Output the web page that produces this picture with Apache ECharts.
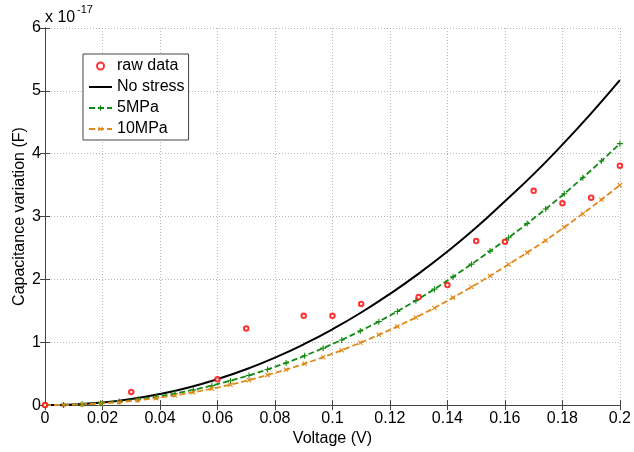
<!DOCTYPE html>
<html><head><meta charset="utf-8">
<script src="https://cdn.jsdelivr.net/npm/echarts@6/dist/echarts.min.js"></script>
<style>html,body{margin:0;padding:0;background:#fff}#c{width:634px;height:452px}</style>
</head><body><div id="c"></div>
<script>
// Raw measured points (units of 1e-17 F)
const rawX = [0, 0.01, 0.03, 0.06, 0.07, 0.09, 0.10, 0.11, 0.13, 0.14, 0.15, 0.16, 0.17, 0.18, 0.19, 0.20];
const rawY = [0, -0.02, 0.21, 0.41, 1.22, 1.42, 1.42, 1.61, 1.72, 1.91, 2.61, 2.60, 3.41, 3.21, 3.30, 3.81];
// No stress curve
const curveX = [0, 0.01, 0.02, 0.03, 0.04, 0.05, 0.06, 0.07, 0.08, 0.09, 0.10, 0.11, 0.12, 0.13, 0.14, 0.15, 0.16, 0.17, 0.18, 0.19, 0.20];
const noStress = [0, 0.010, 0.041, 0.096, 0.176, 0.281, 0.413, 0.570, 0.755, 0.967, 1.206, 1.473, 1.769, 2.092, 2.444, 2.825, 3.245, 3.675, 4.144, 4.642, 5.17];
// Marker positions for stressed curves
const markX = [0, 0.00645, 0.0129, 0.01935, 0.0258, 0.03226, 0.03871, 0.04516, 0.05161, 0.05806, 0.06452, 0.07097, 0.07742, 0.08387, 0.09032, 0.09677, 0.10323, 0.10968, 0.11613, 0.12258, 0.12903, 0.13548, 0.14194, 0.14839, 0.15484, 0.16129, 0.16774, 0.17419, 0.18065, 0.1871, 0.19355, 0.2];
const mpa5 = [0, 0.003, 0.013, 0.031, 0.056, 0.090, 0.132, 0.183, 0.242, 0.310, 0.387, 0.472, 0.567, 0.671, 0.784, 0.906, 1.037, 1.178, 1.328, 1.490, 1.662, 1.845, 2.040, 2.243, 2.450, 2.664, 2.888, 3.120, 3.362, 3.618, 3.883, 4.16];
const mpa10 = [0, 0.0026, 0.011, 0.026, 0.047, 0.076, 0.111, 0.154, 0.204, 0.261, 0.325, 0.397, 0.477, 0.564, 0.659, 0.762, 0.873, 0.991, 1.118, 1.252, 1.394, 1.545, 1.710, 1.880, 2.055, 2.238, 2.426, 2.620, 2.830, 3.046, 3.268, 3.50];
const xTicks = ['0','0.02','0.04','0.06','0.08','0.1','0.12','0.14','0.16','0.18','0.2'];
const yTicks = ['0','1','2','3','4','5','6'];

const zip = (a, b) => a.map((v, i) => [v, b[i]]);
const FONT = 'Liberation Sans, Arial, sans-serif';
const plus = 'path://M-1,-0.18H-0.18V-1H0.18V-0.18H1V0.18H0.18V1H-0.18V0.18H-1Z';

const chart = echarts.init(document.getElementById('c'), null, {renderer: 'canvas'});
const gridLine = {show: true, lineStyle: {type: [1, 2], color: '#b8b8b8', width: 1}};
const axLine = {show: true, lineStyle: {color: '#444', width: 1}};
chart.setOption({
  animation: false,
  backgroundColor: '#fff',
  grid: {left: 45, right: 10, top: 28, bottom: 40},
  textStyle: {fontFamily: FONT},
  xAxis: [{
    type: 'value', min: 0, max: 0.2, interval: 0.02, position: 'bottom',
    axisLine: axLine, axisTick: {show: true, inside: true, length: 5, lineStyle: {color: '#444'}},
    axisLabel: {color: '#000', fontSize: 16, fontFamily: FONT, margin: 5,
      formatter: (v) => xTicks[Math.round(v / 0.02)]},
    splitLine: gridLine,
    name: 'Voltage (V)', nameLocation: 'middle', nameGap: 23,
    nameTextStyle: {color: '#000', fontSize: 16, fontFamily: FONT, verticalAlign: 'top'}
  }, {
    type: 'value', min: 0, max: 0.2, interval: 0.02, position: 'top',
    axisLine: axLine, axisTick: {show: true, inside: true, length: 5, lineStyle: {color: '#444'}},
    axisLabel: {show: false}, splitLine: {show: false}
  }],
  yAxis: [{
    type: 'value', min: 0, max: 6, interval: 1, position: 'left',
    axisLine: axLine, axisTick: {show: true, inside: true, length: 5, lineStyle: {color: '#444'}},
    axisLabel: {color: '#000', fontSize: 16, fontFamily: FONT, margin: 4,
      formatter: (v) => yTicks[Math.round(v)]},
    splitLine: gridLine,
    name: 'Capacitance variation (F)', nameLocation: 'middle', nameGap: 17, nameRotate: 90,
    nameMoveOverlap: false,
    nameTextStyle: {color: '#000', fontSize: 16, fontFamily: FONT}
  }, {
    type: 'value', min: 0, max: 6, interval: 1, position: 'right',
    axisLine: axLine, axisTick: {show: true, inside: true, length: 5, lineStyle: {color: '#444'}},
    axisLabel: {show: false}, splitLine: {show: false}
  }],
  legend: {
    orient: 'vertical', left: 83, top: 54,
    backgroundColor: '#fff', borderColor: '#444', borderWidth: 1,
    padding: [4, 4, 3, 5], itemGap: 5, itemWidth: 23, itemHeight: 7,
    textStyle: {color: '#000', fontSize: 16, fontFamily: FONT, lineHeight: 16},
    data: [
      'raw data',
      {name: 'No stress', icon: 'path://M0,0H23V2H0Z'},
      '5MPa', '10MPa'
    ]
  },
  graphic: [
    {type: 'text', left: 45, top: 10, style: {text: 'x 10', font: '16px ' + FONT, fill: '#000'}},
    {type: 'text', left: 77, top: 4, style: {text: '-17', font: '11px ' + FONT, fill: '#000'}}
  ],
  series: [
    {name: 'raw data', type: 'scatter', data: zip(rawX, rawY), symbol: 'emptyCircle', symbolSize: 4.5,
      itemStyle: {color: '#ff0000', borderColor: '#ff0000', borderWidth: 1}, z: 5},
    {name: 'No stress', type: 'line', data: zip(curveX, noStress), smooth: true, symbol: 'none',
      lineStyle: {color: '#000', width: 2}, itemStyle: {color: '#000'}},
    {name: '5MPa', type: 'line', data: zip(markX, mpa5), symbol: plus, symbolSize: 6, showAllSymbol: true,
      lineStyle: {color: '#138a13', width: 1.8, type: [6, 3]}, itemStyle: {color: '#138a13'}},
    {name: '10MPa', type: 'line', data: zip(markX, mpa10), symbol: plus, symbolRotate: 45, symbolSize: 6, showAllSymbol: true,
      lineStyle: {color: '#e0891a', width: 1.8, type: [6, 3]}, itemStyle: {color: '#e0891a'}}
  ]
});
</script></body></html>
